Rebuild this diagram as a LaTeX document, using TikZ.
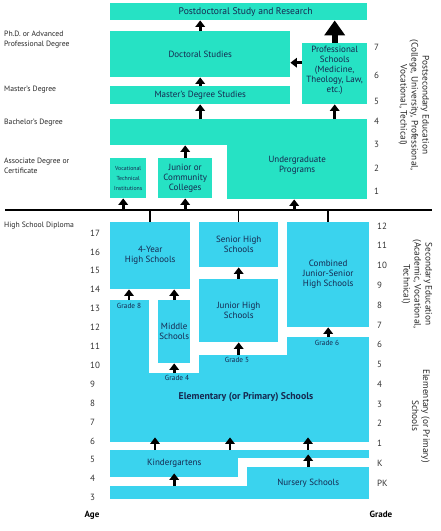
\documentclass[tikz,border=0pt]{standalone}
\usepackage{fontspec}
\setmainfont{PT Sans}
\usepackage{tikz}
\usetikzlibrary{arrows.meta, positioning, calc}

\definecolor{postsec}{RGB}{38,226,196}
\definecolor{secelem}{RGB}{58,211,238}
\definecolor{boxtext}{RGB}{22,40,80}

\begin{document}
\begin{tikzpicture}[
  x=1pt, y=-1pt,
  post/.style={
    fill=postsec, anchor=north west, inner sep=0pt, align=center,
    text=boxtext, font=\fontsize{9}{10}\selectfont
  },
  school/.style={
    fill=secelem, anchor=north west, inner sep=0pt, align=center,
    text=boxtext, font=\fontsize{9}{10}\selectfont
  },
  gradetag/.style={text=boxtext, font=\fontsize{7.3}{8}\selectfont, inner sep=0pt},
  up/.style={-{Triangle[length=6.5pt, width=9.5pt]}, line width=2.8pt, draw=black},
  bigup/.style={-{Triangle[length=15pt, width=20pt]}, line width=6pt, draw=black},
  degree/.style={anchor=west, align=left, inner sep=0pt, text=black!85,
    font=\fontsize{7.7}{10}\selectfont},
  num/.style={anchor=west, inner sep=0pt, text=black!80, font=\fontsize{9}{10}\selectfont},
  side/.style={rotate=-90, align=center, inner sep=0pt, text=black!85,
    font=\fontsize{9.3}{11}\selectfont}
]
\useasboundingbox (0,0) rectangle (440,531);

% ----- Postsecondary -----
\node[post, minimum width=257, minimum height=17, font=\fontsize{9.6}{10}\selectfont] (postdoc) at (110,3)
  {\hspace*{14pt}Postdoctoral Study and Research};
\node[post, minimum width=180, minimum height=46] (doctoral) at (110,31) {Doctoral Studies};
\node[post, minimum width=180, minimum height=18] (masters) at (110,86) {Master's Degree Studies};
\node[post, minimum width=65, minimum height=61] (prof) at (302,43)
  {Professional\\Schools\\(Medicine,\\Theology, Law,\\etc.)\\[-2pt]};
\node[post, minimum width=257, minimum height=26] (ugtop) at (110,119) {};
\node[post, minimum width=140, minimum height=80] (ugbody) at (227,119)
  {\\[9pt]Undergraduate\\Programs};
\node[post, minimum width=36, minimum height=40, font=\fontsize{5.8}{10}\selectfont] (voc) at (110,158)
  {Vocational\\Technical\\Institutions};
\node[post, minimum width=54, minimum height=40] (jrcol) at (158,158)
  {Junior or\\Community\\Colleges};

\draw[up] (masters.south |- ugtop.north) -- (masters.south);
\draw[up] (masters.north) -- (doctoral.south);
\draw[up] (doctoral.north) -- (doctoral.north |- postdoc.south);
\draw[up] (jrcol.north) -- (jrcol.north |- ugtop.south);
\draw[up] (prof.south |- ugtop.north) -- (prof.south);
\draw[up] ([yshift=11pt]prof.west) -- ([yshift=11pt]prof.west -| doctoral.east);
\draw[bigup] (prof.north) -- (prof.north |- postdoc.south);

% ----- High school diploma line -----
\coordinate (ruleW) at (5,210);
\coordinate (ruleE) at (432,210);
\draw[line width=2pt] (ruleW) -- (ruleE);
\draw[up] ([xshift=-5pt]voc.south |- ruleW) -- ([xshift=-5pt]voc.south);
\draw[up] (jrcol.south |- ruleW) -- (jrcol.south);
\draw[up] ([xshift=-3pt]ugbody.south |- ruleW) -- ([xshift=-3pt]ugbody.south);

% ----- Secondary -----
\node[school, minimum width=80, minimum height=67] (fouryr) at (110,222) {4-Year\\High Schools};
\node[school, minimum width=79, minimum height=45] (senhi) at (199,222) {Senior High\\Schools};
\node[school, minimum width=82, minimum height=105] (combo) at (287,222)
  {Combined\\Junior-Senior\\High Schools};
\node[school, minimum width=79, minimum height=63] (jrhi) at (199,279) {Junior High\\Schools};
\node[school, minimum width=32, minimum height=63] (middle) at (158,300) {Middle\\Schools};

\foreach \sch in {fouryr, senhi, combo}
  \draw[line width=1.5pt] (\sch.north |- ruleW) -- (\sch.north);

% ----- Elementary -----
\node[school, minimum width=39, minimum height=142] (elemA) at (110,300) {};
\node[school, minimum width=259, minimum height=69] (elemB) at (110,373) {};
\node[school, minimum width=170, minimum height=87] (elemC) at (199,355) {};
\node[school, minimum width=82, minimum height=105] (elemD) at (287,337) {};
\node[text=boxtext, font=\fontsize{9.8}{10}\selectfont\bfseries] (elemtxt) at (246,397)
  {Elementary (or Primary) Schools};

\node[gradetag] (g8) at (129,306) {Grade 8};
\node[gradetag] (g4) at (177,378) {Grade 4};
\node[gradetag] (g5) at (237,360) {Grade 5};
\node[gradetag] (g6) at (327,343) {Grade 6};

\draw[up] (g8 |- elemA.north) -- (g8 |- fouryr.south);
\draw[up] (middle.north) -- (middle.north |- fouryr.south);
\draw[up] (middle.south |- elemB.north) -- (middle.south);
\draw[up] (jrhi.south |- elemC.north) -- (jrhi.south);
\draw[up] (jrhi.north) -- (senhi.south);
\draw[up] (combo.south |- elemD.north) -- (combo.south);

% ----- Kindergarten and nursery -----
\node[school, minimum width=128, minimum height=27] (kindA) at (110,450) {Kindergartens};
\node[school, minimum width=259, minimum height=8] (kindB) at (110,450) {};
\node[school, minimum width=259, minimum height=13] (nursA) at (110,486) {};
\node[school, minimum width=122, minimum height=32] (nursB) at (247,467) {Nursery Schools};

\foreach \px in {155,230,308}
  \draw[up, shorten >=-5pt] (\px,0 |- kindB.north) -- (\px,0 |- elemB.south);
\draw[up, shorten >=-4pt] (kindA.south |- nursA.north) -- (kindA.south);
\draw[up, shorten >=-4pt] (nursB.north) -- (nursB.north |- kindB.south);

% ----- Degrees (left) -----
\node[degree] (phd) at (4,40) {Ph.D. or Advanced\\Professional Degree};
\node[degree] (ma) at (4,90) {Master's Degree};
\node[degree] (ba) at (4,123) {Bachelor's Degree};
\node[degree] (assoc) at (4,166) {Associate Degree or\\Certificate};
\node[degree] (hsd) at (4,226) {High School Diploma};

% ----- Ages -----
\foreach \a in {3,...,17}
  \node[num] (age\a) at (90,{233+(17-\a)*18.9}) {\a};
\node[font=\fontsize{9}{10}\selectfont\bfseries] (agehead) at (92,515) {Age};

% ----- Grades -----
\foreach \g/\py in {7/47, 6/75, 5/101, 4/121, 3/144, 2/168, 1/191}
  \node[num] (pgr\g) at (374,\py) {\g};
\foreach \g [count=\i from 0] in {12,11,10,9,8,7,6,5,4,3,2,1,K,PK}
  \node[num] (gr\g) at (377,{226+\i*19.77}) {\g};
\node[font=\fontsize{9}{10}\selectfont\bfseries] (gradehead) at (381,514) {Grade};

% ----- Levels (right) -----
\node[side] (postlvl) at (414,105)
  {Postsecondary Education\\(College, University, Professional,\\Vocational, Techical)};
\node[side] (seclvl) at (417,284)
  {Secondary Education\\(Academic, Vocational,\\Technical)};
\node[side] (elemlvl) at (421,416)
  {Elementary (or Primary)\\Schools};

\end{tikzpicture}
\end{document}
